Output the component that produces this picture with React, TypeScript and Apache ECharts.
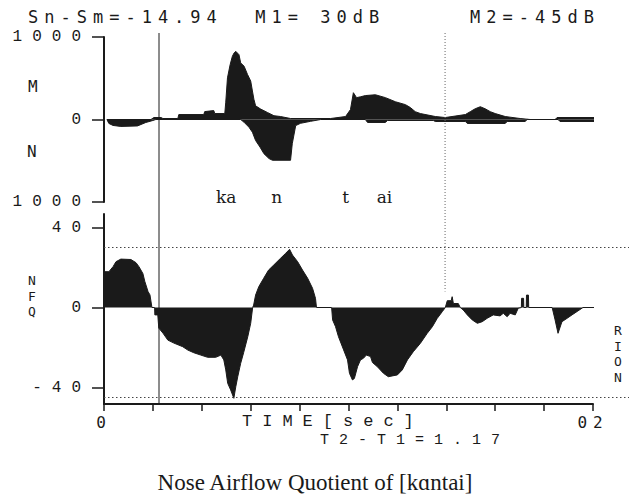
import React, { useEffect, useRef } from "react";
import * as echarts from "echarts";

// ---- data (time in seconds) ----
const mouthTime = [0.012, 0.192, 0.204, 0.233, 0.241, 0.302, 0.306, 0.408, 0.412, 0.449, 0.453, 0.494, 0.498, 0.505, 0.516, 0.525, 0.532, 0.539, 0.552, 0.559, 0.573, 0.587, 0.600, 0.607, 0.613, 0.620, 0.641, 0.668, 0.695, 0.722, 0.763, 0.927, 0.988, 1.008, 1.020, 1.033, 1.049, 1.069, 1.110, 1.151, 1.192, 1.233, 1.253, 1.273, 1.294, 1.355, 1.396, 1.478, 1.498, 1.518, 1.539, 1.559, 1.580, 1.600, 1.641, 1.702, 1.743, 1.845, 1.853, 2.016];
const mouthFlow = [0, 0, 24, 24, 12, 12, 60, 60, 96, 108, 72, 72, 210, 505, 666, 766, 806, 826, 786, 686, 646, 546, 466, 346, 246, 166, 126, 86, 46, 36, 12, 12, 36, 120, 325, 265, 275, 290, 300, 265, 215, 180, 145, 95, 72, 36, 24, 60, 95, 130, 155, 130, 95, 72, 36, 12, 0, 0, 24, 24];

const noseTime = [0.012, 0.020, 0.037, 0.069, 0.137, 0.171, 0.200, 0.212, 0.559, 0.573, 0.593, 0.607, 0.620, 0.638, 0.654, 0.675, 0.689, 0.763, 0.770, 0.784, 0.804, 0.845, 0.886, 1.069, 1.078, 1.151, 1.159, 1.347, 1.355, 1.478, 1.486, 1.641, 1.649, 1.722, 1.731, 1.857, 1.865, 2.016];
const noseFlow = [0, -48, -72, -84, -78, -36, -12, 0, 0, -34, -94, -154, -254, -334, -414, -474, -494, -494, -294, -74, -46, -22, 0, 0, -36, -36, -12, -12, -24, -24, -48, -48, -24, -24, 0, 0, -24, -24];

const nfqTime = [0, 0.020, 0.037, 0.049, 0.069, 0.110, 0.131, 0.143, 0.159, 0.167, 0.180, 0.188, 0.196, 0.207, 0.208, 0.220, 0.224, 0.241, 0.261, 0.286, 0.322, 0.343, 0.367, 0.396, 0.424, 0.457, 0.478, 0.490, 0.498, 0.506, 0.518, 0.531, 0.539, 0.547, 0.559, 0.571, 0.588, 0.600, 0.608, 0.612, 0.620, 0.633, 0.653, 0.673, 0.694, 0.722, 0.743, 0.759, 0.771, 0.792, 0.812, 0.833, 0.853, 0.865, 0.869, 0.931, 0.935, 0.947, 0.959, 0.980, 0.996, 1.004, 1.016, 1.024, 1.037, 1.049, 1.061, 1.073, 1.090, 1.098, 1.118, 1.143, 1.163, 1.200, 1.220, 1.241, 1.265, 1.294, 1.322, 1.343, 1.363, 1.384, 1.396, 1.404, 1.420, 1.424, 1.429, 1.449, 1.457, 1.469, 1.486, 1.506, 1.527, 1.547, 1.567, 1.592, 1.620, 1.633, 1.649, 1.661, 1.682, 1.694, 1.707, 1.708, 1.716, 1.717, 1.727, 1.728, 1.736, 1.737, 1.833, 1.845, 1.857, 1.873, 1.894, 1.914, 1.935, 1.959, 2.008];
const nfqValue = [17.9, 17.9, 20.4, 22.9, 24.2, 24, 22.4, 20.4, 17, 13, 8, 6.3, 0, 0, -3.7, -3.7, -10.3, -12.8, -16.3, -17.8, -19.6, -21.3, -22.6, -23.8, -24.9, -24.9, -23.8, -26.2, -31.2, -37.9, -41.2, -45.4, -39.6, -34.6, -27.9, -22.6, -14.6, -7.9, 0, 1.2, 6.2, 10.4, 14.6, 18.7, 21.2, 24.6, 27.1, 29.1, 26.2, 22.9, 18.7, 14.6, 9.6, 4.6, 0, 0, -6.2, -9.6, -14.6, -21.2, -26.2, -32.9, -36.2, -35.5, -29.6, -26.2, -25.4, -23.8, -24.5, -27.5, -29.6, -32.9, -34.6, -33.7, -31.2, -26.2, -22.1, -17.9, -12.9, -9.6, -5.4, -2, 0, 3.4, 3.4, 5.4, 2, 2, 0, -1.2, -3.7, -6.2, -7.9, -7.1, -5.4, -3.7, -4.2, -2.9, -4.6, -2.9, -3.7, -0.4, 0, 4.6, 4.6, 0, 0, 6.2, 6.2, 0, 0, -6.2, -12.9, -7.1, -5.4, -3.7, -2, 0, 0];

const cursorT1 = 0.225;
const cursorT2 = 1.395; // T2 - T1 = 1.17
const markerLevels = [30, -45]; // M1 = 30 dB, M2 = -45 dB
const topTicks = [-1000, 0, 1000];
const nfqTicks = [-40, 0, 40];
const syllables = [
  { text: "ka", t: 0.5 },
  { text: "n", t: 0.706 },
  { text: "t", t: 0.988 },
  { text: "ai", t: 1.147 },
];
const headerLeft = "Sn-Sm=-14.94  M1= 30dB";
const headerRight = "M2=-45dB";
const caption = "Nose Airflow Quotient of [kɑntai]";

const zip = (a: number[], b: number[]) => a.map((v, i) => [v, b[i]]);

const MONO_A = "DejaVu Sans Mono";
const MONO_B = "Liberation Mono";
const INK = "#1a1a1a";

export default function App() {
  const ref = useRef<HTMLDivElement>(null);
  useEffect(() => {
    if (!ref.current) return;
    const chart = echarts.init(ref.current, null, { renderer: "svg" });
    const areaSeries = (name: string, data: number[][], idx: number) => ({
      name,
      type: "line",
      xAxisIndex: idx,
      yAxisIndex: idx,
      data,
      showSymbol: false,
      symbol: "none",
      clip: false,
      lineStyle: { color: INK, width: 1 },
      areaStyle: { color: INK, opacity: 1 },
      z: 2,
    });
    chart.setOption({
      animation: false,
      backgroundColor: "#ffffff",
      grid: [
        { left: 104, right: 36, top: 37, height: 165 },
        { left: 104, right: 36, top: 214, height: 190 },
      ],
      xAxis: [
        { type: "value", gridIndex: 0, min: 0, max: 2, show: false },
        {
          type: "value",
          gridIndex: 1,
          min: 0,
          max: 2,
          interval: 0.2,
          axisLine: { show: true, onZero: false, lineStyle: { color: INK, width: 2 } },
          axisTick: { show: true, inside: false, length: 7, lineStyle: { color: INK, width: 1.5 } },
          splitLine: { show: false },
          axisLabel: {
            margin: 10,
            fontFamily: MONO_A,
            fontSize: 16,
            color: INK,
            showMinLabel: true,
            showMaxLabel: true,
            formatter: (v: number) => (Math.abs(v) < 1e-6 ? "0" : Math.abs(v - 2) < 1e-6 ? "02" : ""),
          },
        },
      ],
      yAxis: [
        {
          type: "value",
          gridIndex: 0,
          min: -1000,
          max: 1000,
          interval: 1000,
          axisLine: { show: true, onZero: false, lineStyle: { color: INK, width: 2 } },
          axisTick: { show: true, inside: false, length: 12, lineStyle: { color: INK, width: 1.5 }, customValues: topTicks },
          splitLine: { show: false },
          axisLabel: {
            margin: 13,
            fontFamily: MONO_B,
            fontSize: 16,
            color: INK,
            customValues: topTicks,
            formatter: (v: number) => (v === 0 ? "0" : "1000"),
          },
        },
        {
          type: "value",
          gridIndex: 1,
          min: -48.25,
          max: 46.75,
          axisLine: { show: true, onZero: false, lineStyle: { color: INK, width: 2 } },
          axisTick: { show: true, inside: false, length: 12, lineStyle: { color: INK, width: 1.5 }, customValues: nfqTicks },
          splitLine: { show: false },
          axisLabel: {
            margin: 13,
            fontFamily: MONO_B,
            fontSize: 16,
            color: INK,
            customValues: nfqTicks,
            formatter: (v: number) => String(v),
          },
        },
      ],
      series: [
        areaSeries("M", zip(mouthTime, mouthFlow), 0),
        areaSeries("N", zip(noseTime, noseFlow), 0),
        areaSeries("NFQ", zip(nfqTime, nfqValue), 1),
      ],
    });

    const px = (t: number) => chart.convertToPixel({ xAxisIndex: 1 }, t) as number;
    const pyTop = (v: number) => chart.convertToPixel({ yAxisIndex: 0 }, v) as number;
    const pyBot = (v: number) => chart.convertToPixel({ yAxisIndex: 1 }, v) as number;

    const topY = pyTop(1000) - 4;
    const txt = (text: string, x: number, y: number, family: string, size: number, align = "left", extra: any = {}) => ({
      type: "text",
      x,
      y,
      silent: true,
      z: 10,
      style: { text, fontFamily: family, fontSize: size, fill: INK, textAlign: align, textVerticalAlign: "middle", ...extra },
    });

    const graphics: any[] = [
      {
        type: "line",
        z: 5,
        shape: { x1: px(cursorT1), y1: topY, x2: px(cursorT1), y2: pyBot(-48.25) },
        style: { stroke: INK, lineWidth: 1 },
      },
      {
        type: "line",
        z: 5,
        shape: { x1: px(cursorT2), y1: topY, x2: px(cursorT2), y2: pyBot(8) },
        style: { stroke: "#666", lineWidth: 1, lineDash: [1, 2] },
      },
      ...markerLevels.map((v) => ({
        type: "line",
        z: 5,
        shape: { x1: px(0), y1: pyBot(v), x2: 629, y2: pyBot(v) },
        style: { stroke: "#444", lineWidth: 1, lineDash: [1.5, 2.5] },
      })),
      txt(headerLeft, 28, 17, MONO_A, 17),
      txt(headerRight, 470, 17, MONO_A, 17),
      txt("M", 28, 86, MONO_A, 16),
      txt("N", 27, 151, MONO_A, 16),
      txt("N\nF\nQ", 28, 296, MONO_A, 13, "left", { lineHeight: 15.5 }),
      txt("R\nI\nO\nN", 614, 354, MONO_A, 13, "left", { lineHeight: 15.5 }),
      ...syllables.map((s) => txt(s.text, px(s.t), 197, "DejaVu Serif", 17, "center")),
      txt("TIME[sec]", 242, 421, MONO_B, 17),
      txt("T2-T1=1.17", 320, 440, MONO_B, 15),
      txt(caption, 315, 482, "Liberation Serif", 23, "center"),
    ];
    chart.setOption({ graphic: graphics });

    return () => chart.dispose();
  }, []);

  return (
    <>
      <style>{`svg text[style*="DejaVu Sans Mono"]{letter-spacing:6px}svg text[style*="Liberation Mono"]{letter-spacing:10px}`}</style>
      <div ref={ref} style={{ position: "absolute", left: 0, top: 0, width: 629, height: 495, background: "#fff" }} />
    </>
  );
}
